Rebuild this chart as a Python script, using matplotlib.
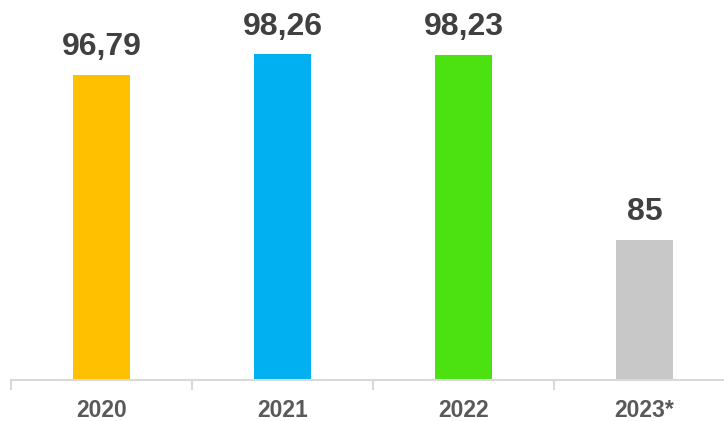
#!/usr/bin/env python3

import matplotlib
matplotlib.use("Agg")
import matplotlib.pyplot as plt
from matplotlib.ticker import FixedLocator

years = ["2020", "2021", "2022", "2023*"]
values = [96.79, 98.26, 98.23, 85]
value_labels = ["96,79", "98,26", "98,23", "85"]
colors = ["#FFC000", "#00B0F0", "#4CE110", "#C8C8C8"]

plt.rcParams['font.family'] = ['Liberation Sans', 'DejaVu Sans']

fig = plt.figure(figsize=(7.24, 4.21), dpi=100)
# right edge of the axis runs past the picture, like the original
ax = fig.add_axes([11 / 724, 41 / 421, 724 / 724, 350 / 421])

x = list(range(len(years)))
bars = ax.bar(x, values, width=0.315, color=colors, bottom=0)
ax.set_ylim(75, 100)
ax.set_xlim(-0.5, len(years) - 0.5)

for b, lab in zip(bars, value_labels):
    ax.annotate(lab, (b.get_x() + b.get_width() / 2, b.get_height()),
                xytext=(0, 9), textcoords="offset points",
                ha="center", va="bottom", fontsize=23, fontweight="bold",
                color="#404040")

for s in ["top", "right", "left"]:
    ax.spines[s].set_visible(False)
ax.spines["bottom"].set_color("#D9D9D9")
ax.spines["bottom"].set_linewidth(1.5)

ax.set_yticks([])
ax.set_xticks(x)
ax.set_xticklabels(years, fontsize=16.5, fontweight="bold", color="#595959")
ax.tick_params(axis="x", which="major", length=0, pad=14)
ax.xaxis.set_minor_locator(FixedLocator([i - 0.5 for i in range(len(years) + 1)]))
ax.tick_params(axis="x", which="minor", length=7, width=1.5, color="#D9D9D9")

fig.savefig("out.png", dpi=100)
